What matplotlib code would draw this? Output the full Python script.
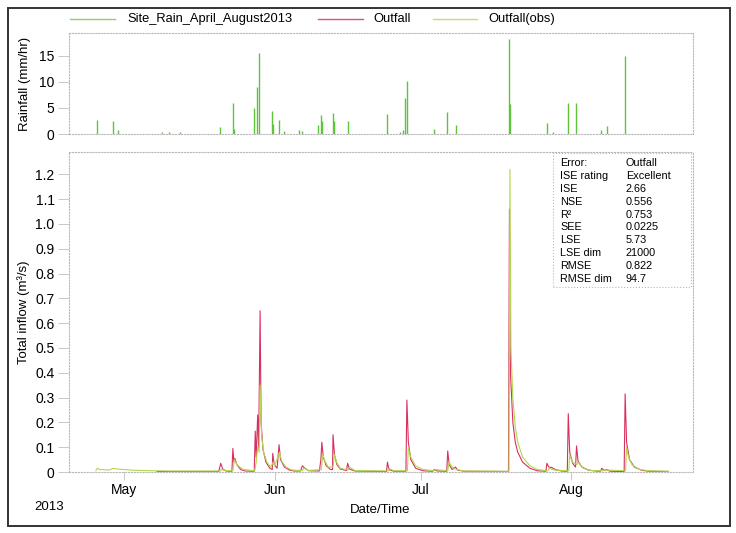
import numpy as np
import matplotlib
matplotlib.use("Agg")
import matplotlib.pyplot as plt
import matplotlib.dates as mdates
from matplotlib.lines import Line2D
from matplotlib.patches import Rectangle

plt.rcParams['font.family'] = ['Liberation Sans', 'DejaVu Sans']

# all times are days after 1 May 2013
base = np.datetime64('2013-05-01T00:00')

# rainfall spikes (mm/hr)
rain_days = [-5.5, -2.2, -1.2, 7.8, 9.2, 11.5, 19.8, 22.4, 22.7, 26.8, 27.4, 27.8,
             30.4, 30.6, 31.9, 33.0, 36.0, 36.6, 40.0, 40.6, 40.8, 43.0, 43.3, 46.0,
             54.2, 56.7, 57.3, 57.8, 58.2, 63.8, 66.4, 68.2, 79.2, 79.4, 87.1, 88.2,
             91.4, 92.9, 98.1, 99.3, 103.0]
rain_vals = [2.6, 2.5, 0.7, 0.4, 0.3, 0.3, 1.4, 6.0, 1.0, 5.0, 9.0, 15.5,
             4.4, 2.0, 2.7, 0.5, 0.8, 0.6, 1.7, 3.6, 2.5, 4.0, 2.5, 2.5,
             3.8, 0.3, 0.7, 6.8, 10.2, 0.9, 4.2, 1.8, 18.2, 5.8, 2.1, 0.3,
             6.0, 6.0, 0.7, 1.6, 15.0]

# modelled Outfall flow (m3/s)
out_days = [6.8, 19.5, 19.9, 20.3, 21.0, 22.2, 22.4, 22.6, 22.8, 23.2, 24.0, 25.0,
            26.8, 27.0, 27.2, 27.5, 27.7, 28.0, 28.2, 28.6, 29.2, 30.0, 30.5, 30.6,
            30.9, 31.5, 31.9, 32.2, 33.0, 34.0, 35.0, 36.3, 36.7, 37.2, 38.0, 40.2,
            40.5, 40.7, 41.0, 41.6, 42.5, 42.9, 43.0, 43.3, 43.8, 44.5, 45.8, 46.0,
            46.4, 47.5, 54.0, 54.2, 54.5, 55.5, 58.0, 58.2, 58.5, 59.0, 60.0, 61.5,
            63.5, 63.8, 64.5, 66.4, 66.6, 66.9, 67.5, 68.2, 68.6, 70.0, 79.1, 79.3,
            79.5, 80.0, 80.5, 81.0, 82.0, 83.5, 85.0, 86.8, 87.0, 87.4, 88.0, 88.7,
            90.0, 91.2, 91.4, 91.7, 92.3, 92.9, 93.1, 93.4, 94.2, 95.5, 97.0, 98.0,
            98.3, 98.8, 99.3, 100.0, 102.9, 103.1, 103.4, 104.0, 105.0, 106.5, 108.0,
            112.0]
out_vals = [0.002, 0.002, 0.035, 0.012, 0.004, 0.003, 0.095, 0.04, 0.055, 0.03, 0.01, 0.004,
            0.003, 0.165, 0.06, 0.23, 0.1, 0.65, 0.2, 0.09, 0.04, 0.015, 0.01, 0.075,
            0.03, 0.015, 0.11, 0.05, 0.02, 0.008, 0.004, 0.004, 0.025, 0.015, 0.005, 0.004,
            0.05, 0.12, 0.06, 0.025, 0.01, 0.01, 0.15, 0.07, 0.03, 0.012, 0.006, 0.035,
            0.012, 0.004, 0.002, 0.04, 0.01, 0.003, 0.003, 0.29, 0.12, 0.05, 0.015, 0.005,
            0.003, 0.01, 0.004, 0.003, 0.085, 0.03, 0.01, 0.02, 0.008, 0.003, 0.002, 1.06,
            0.4, 0.2, 0.12, 0.08, 0.04, 0.015, 0.005, 0.003, 0.035, 0.02, 0.018, 0.01,
            0.004, 0.003, 0.235, 0.08, 0.035, 0.02, 0.105, 0.045, 0.02, 0.008, 0.004, 0.003,
            0.015, 0.006, 0.01, 0.003, 0.002, 0.315, 0.12, 0.05, 0.02, 0.007, 0.003,
            0.002]

# observed Outfall flow (m3/s)
obs_days = [-5.8, -5.5, -5.0, -3.0, -2.2, -1.5, 0.0, 2.0, 6.0, 10.0, 19.8, 20.0,
            21.0, 22.4, 22.7, 23.2, 24.5, 26.9, 27.2, 27.5, 27.8, 28.0, 28.3, 28.7,
            29.4, 30.2, 30.7, 31.0, 32.0, 32.4, 33.3, 34.5, 36.7, 37.0, 38.0, 40.6,
            40.9, 41.3, 42.0, 43.0, 43.3, 43.7, 44.5, 46.1, 46.4, 47.5, 54.3, 54.5,
            55.5, 58.3, 58.5, 59.0, 60.0, 61.5, 63.8, 64.0, 66.6, 66.9, 67.5, 68.4,
            70.0, 79.2, 79.4, 79.6, 80.0, 80.5, 81.0, 82.0, 83.5, 85.0, 87.2, 87.5,
            88.5, 91.5, 91.7, 92.2, 93.2, 93.4, 94.5, 96.0, 98.5, 99.0, 103.2, 103.4,
            103.8, 104.5, 106.0, 108.0, 112.0]
obs_vals = [0.005, 0.015, 0.01, 0.008, 0.015, 0.012, 0.01, 0.007, 0.005, 0.004, 0.004, 0.01,
            0.006, 0.005, 0.05, 0.03, 0.01, 0.005, 0.04, 0.1, 0.08, 0.35, 0.15, 0.08,
            0.04, 0.02, 0.04, 0.025, 0.08, 0.045, 0.02, 0.008, 0.006, 0.015, 0.006, 0.01,
            0.07, 0.045, 0.02, 0.02, 0.07, 0.04, 0.015, 0.008, 0.02, 0.006, 0.004, 0.015,
            0.005, 0.005, 0.1, 0.06, 0.025, 0.01, 0.005, 0.01, 0.005, 0.04, 0.02, 0.01,
            0.004, 0.003, 1.22, 0.5, 0.3, 0.18, 0.12, 0.06, 0.025, 0.01, 0.005, 0.015,
            0.008, 0.005, 0.07, 0.04, 0.03, 0.04, 0.015, 0.006, 0.005, 0.008, 0.005, 0.1,
            0.06, 0.03, 0.01, 0.005, 0.003]

series_names = ["Site_Rain_April_August2013", "Outfall", "Outfall(obs)"]
legend_cols = ['#8fd16a', '#e0507a', '#c9dc6a']

stat_names = ["Error:", "ISE rating", "ISE", "NSE", "R\u00b2", "SEE", "LSE",
              "LSE dim", "RMSE", "RMSE dim"]
stat_values = ["Outfall", "Excellent", "2.66", "0.556", "0.753", "0.0225", "5.73",
               "21000", "0.822", "94.7"]


def to_dates(days):
    secs = (np.asarray(days) * 86400).round().astype('timedelta64[s]')
    return base + secs


W, H = 736, 533
fig = plt.figure(figsize=(W / 100, H / 100), dpi=100)

def fx(px):
    return px / W

def fy(py):
    return 1 - py / H

ax_r = fig.add_axes([fx(68.5), fy(134), fx(692.7) - fx(68.5), fy(33.3) - fy(134)])
ax_q = fig.add_axes([fx(68.5), fy(472), fx(692.7) - fx(68.5), fy(151.5) - fy(472)])

rain_col = '#5ec43a'
out_col = '#d8305f'
obs_col = '#b2d84e'

ax_r.vlines(to_dates(rain_days), 0, rain_vals, color=rain_col, lw=1.0)
ax_q.plot(to_dates(out_days), out_vals, color=out_col, lw=0.8)
ax_q.plot(to_dates(obs_days), obs_vals, color=obs_col, lw=0.8)

xmin, xmax = to_dates([-11.42, 117.0])
for ax in (ax_r, ax_q):
    ax.set_xlim(xmin, xmax)
    for sp in ax.spines.values():
        sp.set_linestyle(':')
        sp.set_color('#b8b8b8')
        sp.set_linewidth(0.8)
    ax.tick_params(axis='y', length=8, width=0.6, color='#c0c0c0', labelsize=10, pad=2)
    ax.xaxis.set_major_locator(mdates.MonthLocator())

ax_r.set_ylim(0, 19.27)
ax_r.set_yticks([0, 5, 10, 15])
ax_r.tick_params(axis='x', length=0, labelbottom=False)
ax_r.set_ylabel("Rainfall (mm/hr)", fontsize=9.5, labelpad=6)

ax_q.set_ylim(0, 1.292)
ax_q.set_yticks(np.arange(0, 1.25, 0.1))
ax_q.set_yticklabels(['0'] + ['%.1f' % v for v in np.arange(0.1, 1.25, 0.1)])
ax_q.xaxis.set_major_formatter(mdates.DateFormatter('%b'))
ax_q.tick_params(axis='x', length=6, width=0.6, color='#c0c0c0', labelsize=10, pad=2)
ax_q.set_ylabel("Total inflow (m\u00b3/s)", fontsize=9.5, labelpad=4)
ax_q.set_xlabel("Date/Time", fontsize=9.5, labelpad=5)
fig.text(fx(49), fy(507), "2013", fontsize=9.5, ha='center', va='center')

# legend above the rainfall panel, laid out by hand
legend_x = [(70, 115, 127), (318, 363, 373), (433, 477, 488)]
for (x0, x1, xt), name, col in zip(legend_x, series_names, legend_cols):
    fig.add_artist(Line2D([fx(x0), fx(x1)], [fy(19), fy(19)], color=col, lw=1.0,
                          transform=fig.transFigure))
    fig.text(fx(xt), fy(19), name, fontsize=9.3, va='center', ha='left')

# statistics box
fig.patches.append(Rectangle((fx(553), fy(287)), fx(691) - fx(553), fy(153) - fy(287),
                             transform=fig.transFigure, fill=True, facecolor='white',
                             edgecolor='#b8b8b8', linestyle=':', lw=0.8))
for i, (n, v) in enumerate(zip(stat_names, stat_values)):
    y = fy(163.3 + i * 12.8)
    fig.text(fx(560), y, n, fontsize=7.8, va='center')
    fig.text(fx(626), y, v, fontsize=7.8, va='center')

# outer frame
fig.patches.append(Rectangle((fx(7.5), fy(526)), fx(730) - fx(7.5), fy(8) - fy(526),
                             transform=fig.transFigure, fill=False,
                             edgecolor='#333333', lw=1.4))

fig.savefig("out.png", dpi=100)
